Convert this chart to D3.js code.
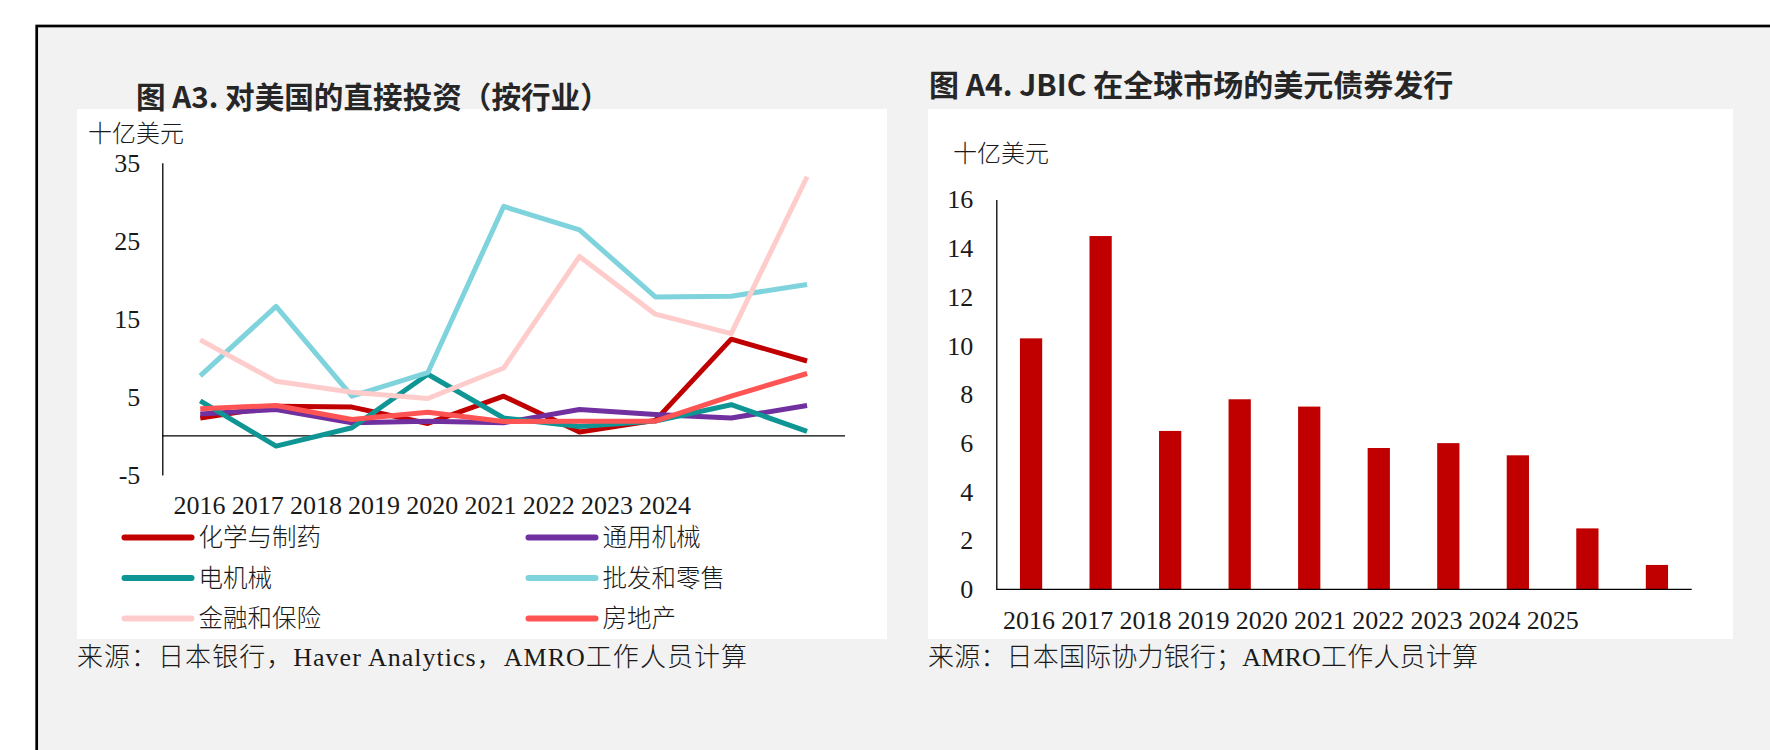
<!DOCTYPE html>
<html><head><meta charset="utf-8">
<script src="https://cdn.jsdelivr.net/npm/d3@7"></script>
<style>body{margin:0;background:#fff;} svg{display:block}</style>
</head><body><svg id="c" width="1770" height="750"></svg>
<script>
// ---------- data: Figure A3 ----------
const yearsA3 = ["2016","2017","2018","2019","2020","2021","2022","2023","2024"];
const chemPharma    = [2.3, 3.8, 3.7, 1.6, 5.1, 0.5, 2.0, 12.4, 9.6];
const generalMach   = [2.8, 3.4, 1.7, 1.9, 1.7, 3.4, 2.75, 2.3, 3.9];
const electricMach  = [4.5, -1.3, 1.05, 7.9, 2.3, 1.2, 1.9, 4.0, 0.6];
const wholesale     = [7.7, 16.6, 5.1, 8.1, 29.4, 26.4, 17.8, 17.9, 19.4];
const financeIns    = [12.3, 7.0, 5.6, 4.8, 8.7, 23.0, 15.6, 13.1, 33.2];
const realEstate    = [3.5, 3.9, 2.1, 3.05, 1.85, 1.9, 1.9, 5.1, 8.0];
const seriesNamesA3 = ["化学与制药","通用机械","电机械","批发和零售","金融和保险","房地产"];
const yTicksA3 = [35, 25, 15, 5, -5];

// ---------- data: Figure A4 ----------
const yearsA4 = ["2016","2017","2018","2019","2020","2021","2022","2023","2024","2025"];
const jbicUsdBonds = [10.3, 14.5, 6.5, 7.8, 7.5, 5.8, 6.0, 5.5, 2.5, 1.0];
const yTicksA4 = [0, 2, 4, 6, 8, 10, 12, 14, 16];

const colorsA3 = ["#C00000","#7030A0","#0E9594","#7FD3DC","#FFCCCC","#FF5454"];
const valuesA3 = [chemPharma, generalMach, electricMach, wholesale, financeIns, realEstate];

const svg = d3.select("#c");
const SERIF = "'Liberation Serif','Noto Sans CJK SC',serif";
const CJK = "'Liberation Serif','Noto Sans CJK SC',sans-serif";
const BOLD = "'Noto Sans CJK SC','Noto Sans',sans-serif";
const TXT = "#1a1a1a";

// background frame
svg.append("rect").attr("x",0).attr("y",0).attr("width",1770).attr("height",750).attr("fill","#fff");
svg.append("rect").attr("x",36.7).attr("y",26).attr("width",1800).attr("height",800)
  .attr("fill","#f2f2f2").attr("stroke","#000").attr("stroke-width",2.7);

// white panels
svg.append("rect").attr("x",77).attr("y",109).attr("width",810).attr("height",530).attr("fill","#fff");
svg.append("rect").attr("x",928).attr("y",109).attr("width",805).attr("height",530).attr("fill","#fff");

// titles
svg.append("text").attr("x",136).attr("y",95).attr("dominant-baseline","central")
  .attr("font-family",BOLD).attr("font-weight",700).attr("font-size",29.6).attr("fill","#262626")
  .text("图 A3. 对美国的直接投资（按行业）");
svg.append("text").attr("x",929).attr("y",83).attr("dominant-baseline","central")
  .attr("font-family",BOLD).attr("font-weight",700).attr("font-size",30).attr("fill","#262626")
  .text("图 A4. JBIC 在全球市场的美元债券发行");

// ================= Chart A3 =================
const xA3 = d3.scalePoint().domain(yearsA3).range([162.3, 845]).padding(0.5);
const yA3 = d3.scaleLinear().domain([-5, 35]).range([475, 162.7]);

const gA3 = svg.append("g");
// y axis
const yAxA3 = gA3.append("g").attr("transform","translate(162.3,0)")
  .call(d3.axisLeft(yA3).tickValues(yTicksA3).tickSize(0).tickPadding(22).tickFormat(d => String(d)));
yAxA3.select(".domain").attr("stroke","#000").attr("stroke-width",1.3);
yAxA3.selectAll("text").attr("font-family",SERIF).attr("font-size",26).attr("fill",TXT);
// zero line
gA3.append("line").attr("x1",162.3).attr("x2",845).attr("y1",yA3(0)).attr("y2",yA3(0))
  .attr("stroke","#000").attr("stroke-width",1.3);

// year labels (compact, as in the reference)
const xLabA3 = d3.scalePoint().domain(yearsA3).range([173, 173 + 8*58.2]);
const xAxA3 = gA3.append("g").attr("transform","translate(0,506)")
  .call(d3.axisBottom(xLabA3).tickSize(0).tickPadding(0));
xAxA3.select(".domain").remove();
xAxA3.selectAll("text").attr("font-family",SERIF).attr("font-size",26).attr("fill",TXT)
  .attr("text-anchor","start").attr("dy","0.32em");

// unit
gA3.append("text").attr("x",88).attr("y",134).attr("dominant-baseline","central")
  .attr("font-family",CJK).attr("font-weight",300).attr("font-size",24).attr("fill",TXT).text("十亿美元");

// lines
const line = d3.line().x((d,i)=>xA3(yearsA3[i])).y(d=>yA3(d));
valuesA3.forEach((vals,k)=>{
  gA3.append("path").datum(vals).attr("d",line).attr("fill","none")
    .attr("stroke",colorsA3[k]).attr("stroke-width",5)
    .attr("stroke-linejoin","round").attr("stroke-linecap","butt");
});

// legend
const legRows = [537.5, 578, 618.5];
const legCols = [124.5, 528.5];
seriesNamesA3.forEach((name,k)=>{
  const cx = legCols[k%2], cy = legRows[Math.floor(k/2)];
  gA3.append("line").attr("x1",cx).attr("x2",cx+67).attr("y1",cy).attr("y2",cy)
    .attr("stroke",colorsA3[k]).attr("stroke-width",6).attr("stroke-linecap","round");
  gA3.append("text").attr("x",cx+74).attr("y",cy).attr("dominant-baseline","central")
    .attr("font-family",CJK).attr("font-weight",300).attr("font-size",24.5).attr("fill",TXT).text(name);
});

// source
svg.append("text").attr("x",77).attr("y",657).attr("dominant-baseline","central")
  .attr("font-family",CJK).attr("font-weight",300).attr("font-size",26).attr("fill",TXT)
  .attr("textLength",670).attr("lengthAdjust","spacing")
  .text("来源：日本银行，Haver Analytics，AMRO工作人员计算");

// ================= Chart A4 =================
const xA4 = d3.scaleBand().domain(yearsA4).range([996.3, 1691.7]).paddingInner(0.68).paddingOuter(0.34);
const yA4 = d3.scaleLinear().domain([0, 16]).range([589.3, 199.5]);
const gA4 = svg.append("g");

gA4.selectAll("rect.bar").data(jbicUsdBonds).join("rect").attr("class","bar")
  .attr("x",(d,i)=>xA4(yearsA4[i])).attr("width",xA4.bandwidth())
  .attr("y",d=>yA4(d)).attr("height",d=>yA4(0)-yA4(d)).attr("fill","#C00000");

const yAxA4 = gA4.append("g").attr("transform","translate(996.3,0)")
  .call(d3.axisLeft(yA4).tickValues(yTicksA4).tickSize(0).tickPadding(23).tickFormat(d => String(d)));
yAxA4.select(".domain").attr("stroke","#000").attr("stroke-width",1.3);
yAxA4.selectAll("text").attr("font-family",SERIF).attr("font-size",26).attr("fill",TXT);

gA4.append("line").attr("x1",996.3).attr("x2",1691.7).attr("y1",yA4(0)).attr("y2",yA4(0))
  .attr("stroke","#000").attr("stroke-width",1.3);

const xLabA4 = d3.scalePoint().domain(yearsA4).range([1002.5, 1002.5 + 9*58.2]);
const xAxA4 = gA4.append("g").attr("transform","translate(0,620.5)")
  .call(d3.axisBottom(xLabA4).tickSize(0).tickPadding(0));
xAxA4.select(".domain").remove();
xAxA4.selectAll("text").attr("font-family",SERIF).attr("font-size",26).attr("fill",TXT)
  .attr("text-anchor","start").attr("dy","0.32em");

gA4.append("text").attr("x",953).attr("y",154).attr("dominant-baseline","central")
  .attr("font-family",CJK).attr("font-weight",300).attr("font-size",24).attr("fill",TXT).text("十亿美元");

svg.append("text").attr("x",928).attr("y",657).attr("dominant-baseline","central")
  .attr("font-family",CJK).attr("font-weight",300).attr("font-size",26).attr("fill",TXT)
  .attr("textLength",550).attr("lengthAdjust","spacing")
  .text("来源：日本国际协力银行；AMRO工作人员计算");
</script></body></html>
